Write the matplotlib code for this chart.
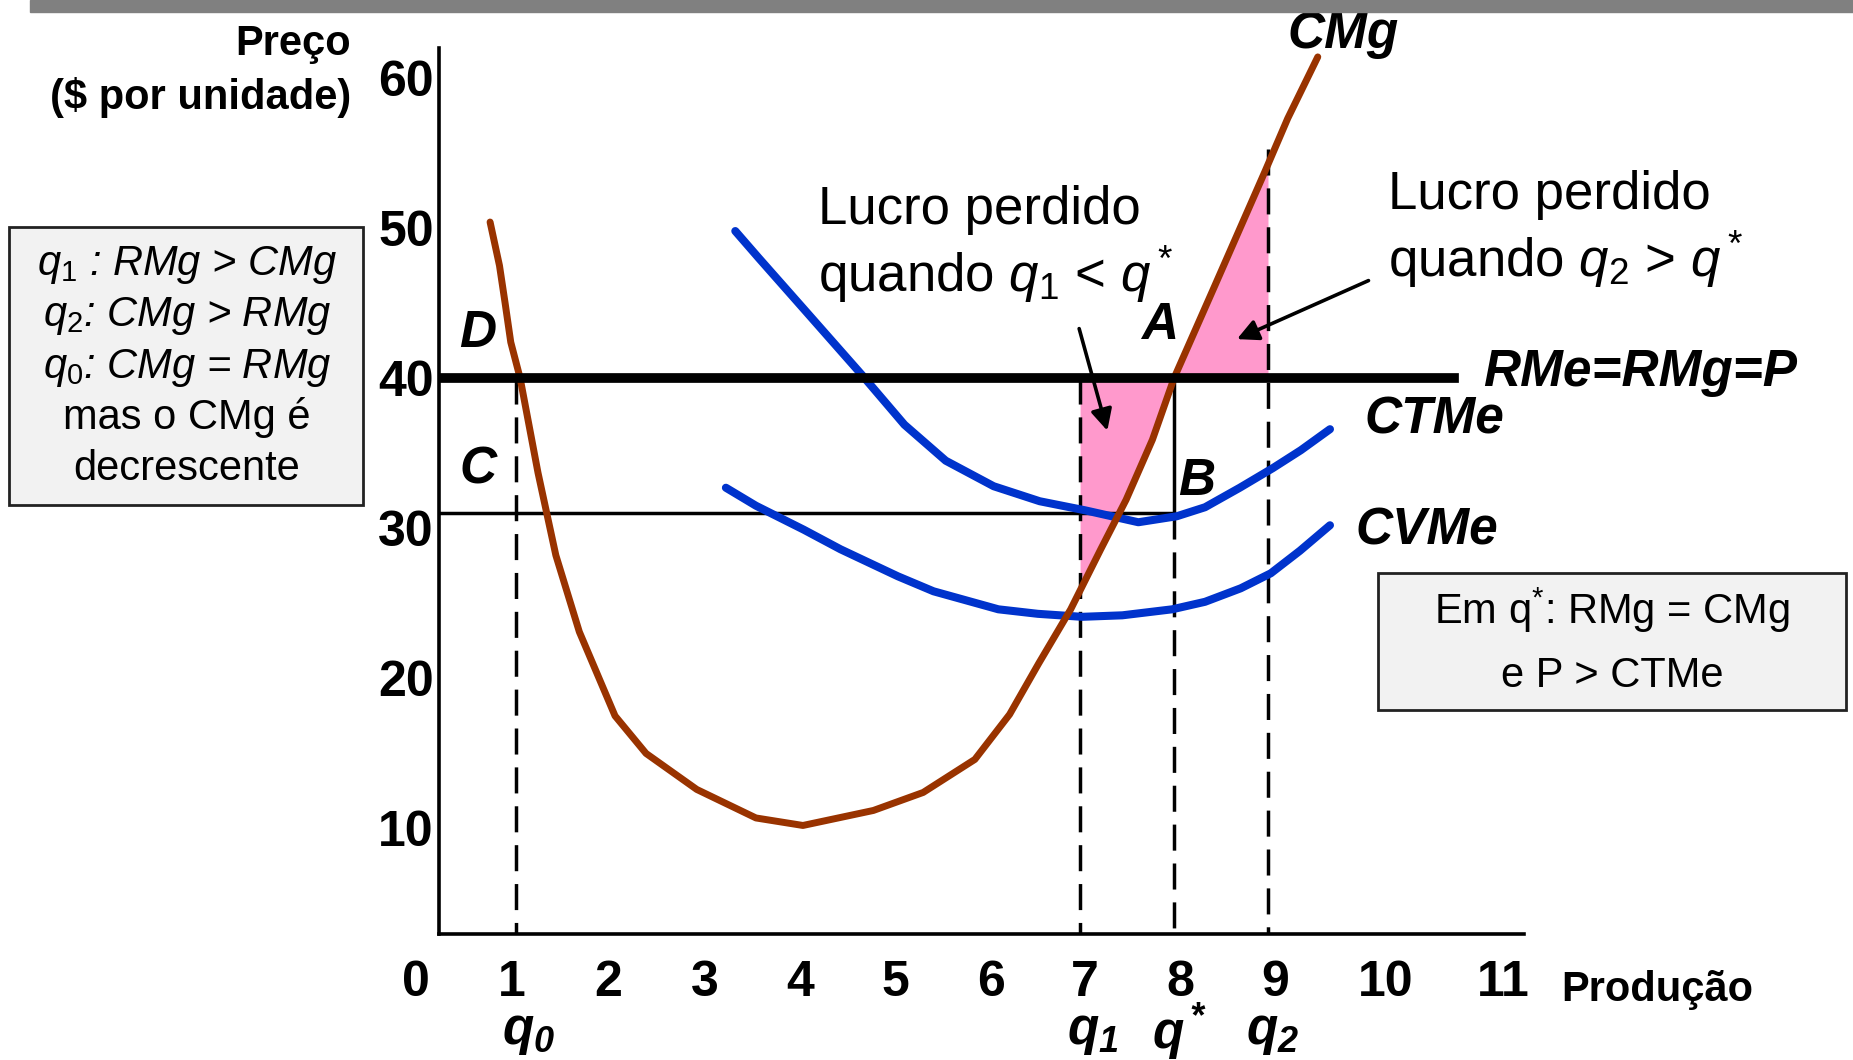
import matplotlib

matplotlib.use("Agg")
import matplotlib.pyplot as plt
import numpy as np
from matplotlib.patches import Rectangle

plt.rcParams["font.family"] = ["Liberation Sans", "DejaVu Sans"]
plt.rcParams["mathtext.fontset"] = "custom"
plt.rcParams["mathtext.rm"] = "Liberation Sans"
plt.rcParams["mathtext.it"] = "Liberation Sans:italic"
plt.rcParams["mathtext.bf"] = "Liberation Sans:italic:bold"

BROWN = "#993300"
BLUE = "#0033cc"
PINK = "#ff99cc"
BOX_BG = "#f2f2f2"
BAR = "#808080"

# custo marginal (CMg)
cmg_q = [0.72, 0.82, 0.88, 0.94, 1.04, 1.23, 1.42, 1.67, 2.05, 2.38, 2.92, 3.55, 4.05,
         4.80, 5.33, 5.88, 6.25, 6.56, 6.90, 7.22, 7.49, 7.77, 8.00, 8.43, 8.97, 9.21, 9.53]
cmg_p = [50.4, 47.5, 45.0, 42.4, 40.0, 33.7, 28.2, 23.1, 17.5, 15.0, 12.6, 10.7, 10.2,
         11.2, 12.4, 14.6, 17.6, 21.0, 24.6, 28.6, 31.9, 35.9, 40.0, 46.1, 53.8, 57.3, 61.4]

# custo total medio (CTMe)
ctme_q = [3.33, 3.58, 4.06, 4.68, 5.13, 5.57, 6.08, 6.57, 7.05, 7.62, 8.03, 8.33, 8.70, 9.05, 9.35, 9.66]
ctme_p = [49.8, 48.0, 44.6, 40.2, 36.9, 34.5, 32.8, 31.8, 31.2, 30.4, 30.8, 31.4, 32.7, 34.0, 35.2, 36.6]

# custo variavel medio (CVMe)
cvme_q = [3.23, 3.55, 4.06, 4.45, 5.06, 5.44, 6.13, 6.55, 7.02, 7.45, 7.98, 8.33, 8.71, 9.03, 9.34, 9.66]
cvme_p = [32.7, 31.5, 29.9, 28.6, 26.8, 25.8, 24.6, 24.3, 24.1, 24.2, 24.6, 25.1, 26.0, 27.0, 28.5, 30.2]

price = 40
ctme_at_qstar = 31
q0, q1, q_star, q2 = 1, 7, 8, 9

yticks = [10, 20, 30, 40, 50, 60]
xtick_pos = [-0.07, 0.95, 1.98, 3.0, 4.02, 5.03, 6.05, 7.05, 8.07, 9.08, 10.25, 11.5]
xtick_labels = [str(i) for i in range(12)]

fig = plt.figure(figsize=(18.53, 10.60), dpi=100, facecolor="white")
fig.patches.append(Rectangle((30 / 1853, 1 - 12 / 1060), 1, 12 / 1060,
                             transform=fig.transFigure, color=BAR, zorder=0))

ax = fig.add_axes([0.2371, 0.1193, 0.5856, 0.8355])
ax.set_xlim(0.18, 11.73)
ax.set_ylim(3, 62)
for side in ("top", "right"):
    ax.spines[side].set_visible(False)
for side in ("left", "bottom"):
    ax.spines[side].set_linewidth(2.6)
    ax.spines[side].set_color("black")

ax.set_xticks([])
ax.set_yticks(yticks)
ax.set_yticklabels([str(v) for v in yticks], fontsize=36, fontweight="bold")
ax.tick_params(axis="y", length=0, pad=4)

xt = ax.get_xaxis_transform()
for pos, lab in zip(xtick_pos, xtick_labels):
    ax.text(pos, -0.056, lab, transform=xt, ha="center", va="center",
            fontsize=36, fontweight="bold", clip_on=False)

# areas de lucro perdido
xs_left = np.linspace(q1, q_star, 60)
ax.fill_between(xs_left, np.interp(xs_left, cmg_q, cmg_p), price, color=PINK, lw=0, zorder=1)
xs_right = np.linspace(q_star, q2, 60)
ax.fill_between(xs_right, price, np.interp(xs_right, cmg_q, cmg_p), color=PINK, lw=0, zorder=1)

# linhas auxiliares
dash = (0, (7.5, 3.7))
ax.plot([q0, q0], [price, 3], color="black", lw=2.5, ls=dash, zorder=2)
ax.plot([q1, q1], [price, 3], color="black", lw=2.5, ls=dash, zorder=2)
ax.plot([q_star, q_star], [ctme_at_qstar, 3], color="black", lw=2.5, ls=dash, zorder=2)
ax.plot([q2, q2], [np.interp(q2, cmg_q, cmg_p) + 1, 3], color="black", lw=2.5, ls=dash, zorder=2)
ax.plot([q_star, q_star], [price, ctme_at_qstar], color="black", lw=2.5, zorder=2)
ax.plot([0.18, q_star], [ctme_at_qstar, ctme_at_qstar], color="black", lw=2.5, zorder=2)

ax.plot(cmg_q, cmg_p, color=BROWN, lw=5, solid_capstyle="round", solid_joinstyle="round", zorder=4)
ax.plot(ctme_q, ctme_p, color=BLUE, lw=5.8, solid_capstyle="round", solid_joinstyle="round", zorder=3)
ax.plot(cvme_q, cvme_p, color=BLUE, lw=5.8, solid_capstyle="round", solid_joinstyle="round", zorder=3)
ax.plot([0.18, 10.98], [price, price], color="black", lw=7, zorder=5)

bi = dict(fontsize=37, fontweight="bold", fontstyle="italic", clip_on=False)
ax.text(9.80, 62.9, "CMg", ha="center", va="center", **bi)
ax.text(11.29, 40.4, "RMe=RMg=P", ha="left", va="center", **bi)
ax.text(10.03, 37.2, "CTMe", ha="left", va="center", **bi)
ax.text(9.93, 29.8, "CVMe", ha="left", va="center", **bi)
ax.text(0.59, 43.0, "D", ha="center", va="center", **bi)
ax.text(0.59, 33.9, "C", ha="center", va="center", **bi)
ax.text(7.85, 43.5, "A", ha="center", va="center", **bi)
ax.text(8.24, 33.1, "B", ha="center", va="center", **bi)

for pos, lab in [(1.13, r"$\mathbf{q_0}$"), (7.14, r"$\mathbf{q_1}$"),
                 (8.06, r"$\mathbf{q^*}$"), (9.05, r"$\mathbf{q_2}$")]:
    ax.text(pos, -0.112, lab, transform=xt, ha="center", va="center", fontsize=37, clip_on=False)

ax.text(4.21, 51.2, "Lucro perdido", fontsize=38, ha="left", va="center")
ax.text(4.21, 46.9, r"quando $q_1$ < $q^*$", fontsize=38, ha="left", va="center")
ax.text(10.28, 52.2, "Lucro perdido", fontsize=38, ha="left", va="center", clip_on=False)
ax.text(10.28, 47.9, r"quando $q_2$ > $q^*$", fontsize=38, ha="left", va="center", clip_on=False)

arrow = dict(arrowstyle="-|>", color="black", lw=2.6, mutation_scale=32, shrinkA=0, shrinkB=0)
ax.annotate("", xy=(7.29, 36.5), xytext=(6.99, 43.3), arrowprops=arrow, zorder=6)
ax.annotate("", xy=(8.67, 42.6), xytext=(10.07, 46.5), arrowprops=arrow, zorder=6)

fig.text(351 / 1853, 1 - 44 / 1060, "Preço", ha="right", va="center", fontsize=30, fontweight="bold")
fig.text(351 / 1853, 1 - 97 / 1060, "($ por unidade)", ha="right", va="center", fontsize=30, fontweight="bold")
fig.text(1561 / 1853, 1 - 990 / 1060, "Produção", ha="left", va="center", fontsize=30, fontweight="bold")

# caixa da esquerda
fig.patches.append(Rectangle((9 / 1853, 1 - 505 / 1060), 354 / 1853, 278 / 1060,
                             transform=fig.transFigure, facecolor=BOX_BG, edgecolor="#222222", lw=2))
left_lines = [(r"$q_1$ : RMg > CMg", "italic"), (r"$q_2$: CMg > RMg", "italic"),
              (r"$q_0$: CMg = RMg", "italic"), ("mas o CMg é", "normal"), ("decrescente", "normal")]
for (txt, style), ypx in zip(left_lines, [265, 316, 368, 418, 469]):
    fig.text(187 / 1853, 1 - ypx / 1060, txt, ha="center", va="center", fontsize=30, fontstyle=style)

# caixa da direita
fig.patches.append(Rectangle((1378 / 1853, 1 - 710 / 1060), 468 / 1853, 137 / 1060,
                             transform=fig.transFigure, facecolor=BOX_BG, edgecolor="#222222", lw=2))
fig.text(1612 / 1853, 1 - 610 / 1060, r"Em $\mathrm{q}^{*}$: RMg = CMg", ha="center", va="center", fontsize=30)
fig.text(1612 / 1853, 1 - 676 / 1060, "e P > CTMe", ha="center", va="center", fontsize=30)

fig.savefig("out.png", dpi=100, facecolor="white")
